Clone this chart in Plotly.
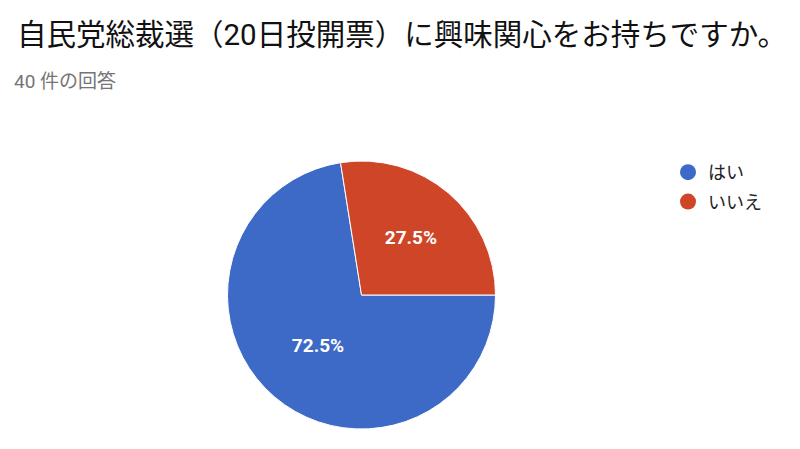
import plotly.graph_objects as go

# survey result (40 responses)
labels = ["はい", "いいえ"]
counts = [29, 11]
colors = ["#3d69c7", "#ce4527"]

title_text = "自民党総裁選（20日投開票）に興味関心をお持ちですか。"
subtitle_text = "40 件の回答"

FONT = "Roboto, 'Noto Sans CJK JP', sans-serif"

# page body adds an 8px margin, so positions below are shifted by 8px
W, H = 800, 449

fig = go.Figure()
fig.add_trace(go.Pie(
    labels=labels, values=counts, sort=False,
    direction="clockwise", rotation=90,
    marker=dict(colors=colors, line=dict(color="white", width=1)),
    textinfo="percent", texttemplate="%{percent:.1%}",
    textposition="inside", insidetextorientation="horizontal",
    textfont=dict(color="white", size=19, family="Roboto, Arial", weight="bold"),
    showlegend=False, hoverinfo="label+percent",
    domain=dict(x=[219 / W, 488 / W], y=[1 - 421 / H, 1 - 153 / H]),
))

# legend entries with round markers, like the original
for i, (lab, col) in enumerate(zip(labels, colors)):
    fig.add_trace(go.Scatter(
        x=[None], y=[None], mode="markers", name=lab,
        marker=dict(color=col, size=18, symbol="circle"),
        legendgroup=str(i), showlegend=True,
    ))

fig.update_layout(
    width=W, height=H,
    margin=dict(l=0, r=0, t=0, b=0),
    paper_bgcolor="white", plot_bgcolor="white",
    font=dict(family=FONT, color="#222222"),
    xaxis=dict(visible=False), yaxis=dict(visible=False),
    legend=dict(
        x=660 / W, y=1 - 146 / H, xanchor="left", yanchor="top",
        font=dict(size=18, color="#222222"),
        traceorder="grouped", tracegroupgap=3,
        itemsizing="trace",
    ),
    annotations=[
        dict(text=title_text, x=7 / W, y=1 - 27 / H, xref="paper", yref="paper",
             xanchor="left", yanchor="middle", showarrow=False,
             font=dict(size=29.5, color="#111111", family=FONT)),
        dict(text=subtitle_text, x=4 / W, y=1 - 74 / H, xref="paper", yref="paper",
             xanchor="left", yanchor="middle", showarrow=False,
             font=dict(size=19, color="#757575", family=FONT)),
    ],
)

fig.write_html("out.html")
